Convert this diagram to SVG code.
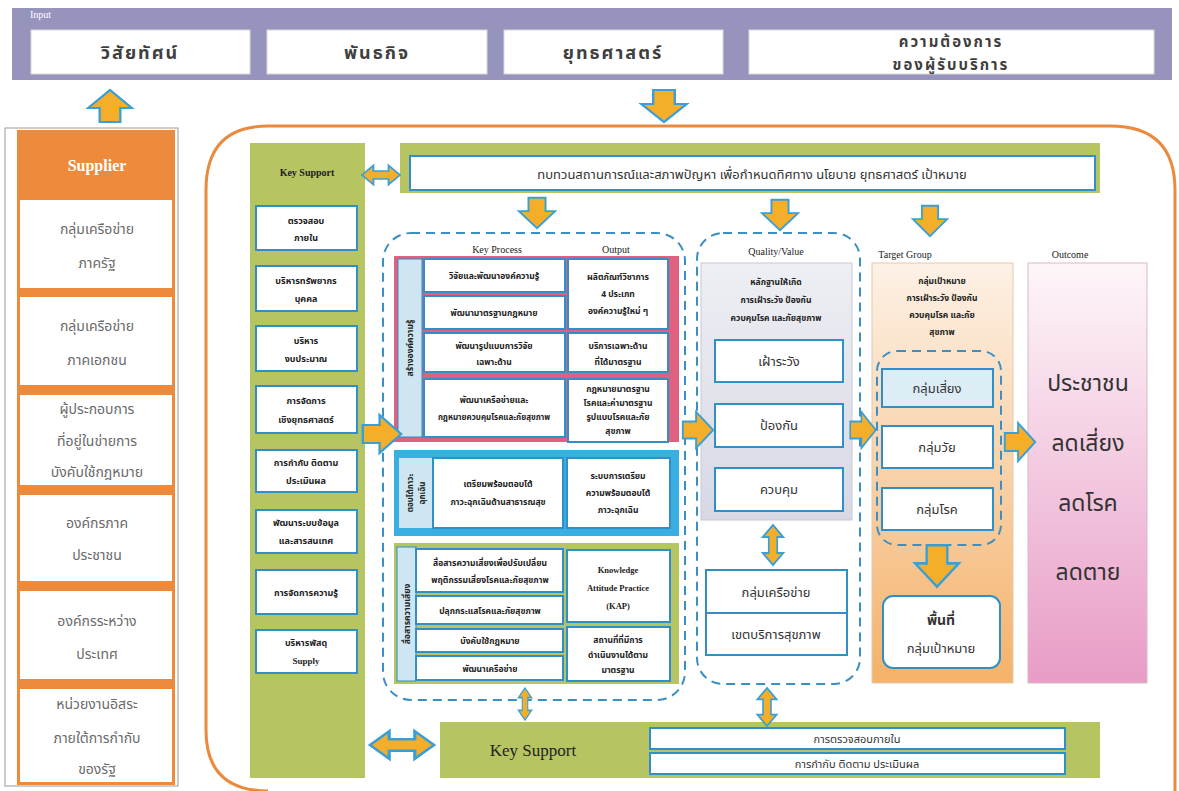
<svg xmlns="http://www.w3.org/2000/svg" width="1179" height="791" viewBox="0 0 1179 791">
<style>
.th{font-family:"Noto Sans Thai","Loma","Garuda","Tlwg Typo","Noto Sans","DejaVu Sans",sans-serif;}
.lat{font-family:"Liberation Serif","Times New Roman",serif;}
.inp{font-size:18px;font-weight:bold;fill:#3f3f3f;letter-spacing:2px;text-anchor:middle;}
.inp2{font-size:15px;}
.sup{font-size:14px;fill:#6a6a6a;text-anchor:middle;}
.ks{font-size:9px;font-weight:bold;fill:#222;text-anchor:middle;}
.sm{font-size:8.5px;font-weight:bold;fill:#222;text-anchor:middle;}
.xs{font-size:8px;}
.hdr{font-size:10px;fill:#222;text-anchor:middle;}
.mid{font-size:13px;fill:#333;text-anchor:middle;}
.out{font-size:23px;fill:#333;text-anchor:middle;}
.wbox{fill:#fff;stroke:#2f8fc6;stroke-width:2;}
.wplain{fill:#fff;stroke:#d8d8d8;stroke-width:1;}
.arr{fill:#f5ae2a;stroke:#3a9fd6;stroke-width:2;stroke-linejoin:miter;}
.dash{fill:none;stroke:#3b8fc4;stroke-width:2;stroke-dasharray:9 6;}
</style>
<defs>
  <path id="aDown" d="M-9,-16 H9 V-2 H19 L0,16 L-19,-2 H-9 Z"/>
  <path id="aDbl" d="M-20,0 L-8,-12 V-5 H8 V-12 L20,0 L8,12 V5 H-8 V12 Z"/>
  <linearGradient id="gTarget" x1="0" y1="0" x2="0" y2="1">
    <stop offset="0" stop-color="#fdf1e6"/>
    <stop offset="1" stop-color="#f4b26a"/>
  </linearGradient>
  <linearGradient id="gOutcome" x1="0" y1="0" x2="0" y2="1">
    <stop offset="0" stop-color="#fdf6f9"/>
    <stop offset="1" stop-color="#e89cc6"/>
  </linearGradient>
  <linearGradient id="gQual" x1="0" y1="0" x2="0" y2="1">
    <stop offset="0" stop-color="#eeeff4"/>
    <stop offset="1" stop-color="#d6d8e4"/>
  </linearGradient>
</defs>

<rect width="1179" height="791" fill="#fff"/>

<!-- Input bar -->
<g id="input">
  <rect x="12" y="8" width="1160" height="72" fill="#9693bd"/>
  <text x="30" y="18" class="lat" font-size="10" fill="#fff">Input</text>
  <rect x="31" y="30" width="219" height="44" class="wplain"/>
  <text x="140" y="59" class="th inp">วิสัยทัศน์</text>
  <rect x="267" y="30" width="220" height="44" class="wplain"/>
  <text x="377" y="59" class="th inp">พันธกิจ</text>
  <rect x="504" y="30" width="219" height="44" class="wplain"/>
  <text x="613" y="59" class="th inp">ยุทธศาสตร์</text>
  <rect x="749" y="30" width="405" height="44" class="wplain"/>
  <text x="951" y="47" class="th inp inp2">ความต้องการ</text>
  <text x="951" y="70" class="th inp inp2">ของผู้รับบริการ</text>
</g>

<!-- Supplier column -->
<g id="supplier">
  <rect x="5" y="128" width="173" height="658" fill="#fff" stroke="#999" stroke-width="1"/>
  <rect x="17" y="130" width="158" height="655" fill="#ee8a3c"/>
  <text x="97" y="171" class="lat" font-size="16" font-weight="bold" fill="#fff" text-anchor="middle">Supplier</text>
  <rect x="20" y="200" width="152" height="88" fill="#fff"/>
  <text x="97" y="234" class="th sup">กลุ่มเครือข่าย</text>
  <text x="97" y="268" class="th sup">ภาครัฐ</text>
  <rect x="20" y="297" width="152" height="88" fill="#fff"/>
  <text x="97" y="331" class="th sup">กลุ่มเครือข่าย</text>
  <text x="97" y="365" class="th sup">ภาคเอกชน</text>
  <rect x="20" y="395" width="152" height="90" fill="#fff"/>
  <text x="97" y="414" class="th sup">ผู้ประกอบการ</text>
  <text x="97" y="446" class="th sup">ที่อยู่ในข่ายการ</text>
  <text x="97" y="477" class="th sup">บังคับใช้กฎหมาย</text>
  <rect x="20" y="495" width="152" height="86" fill="#fff"/>
  <text x="97" y="528" class="th sup">องค์กรภาค</text>
  <text x="97" y="560" class="th sup">ประชาชน</text>
  <rect x="20" y="591" width="152" height="88" fill="#fff"/>
  <text x="97" y="626" class="th sup">องค์กรระหว่าง</text>
  <text x="97" y="659" class="th sup">ประเทศ</text>
  <rect x="20" y="689" width="152" height="93" fill="#fff"/>
  <text x="97" y="709" class="th sup">หน่วยงานอิสระ</text>
  <text x="97" y="743" class="th sup">ภายใต้การกำกับ</text>
  <text x="97" y="774" class="th sup">ของรัฐ</text>
</g>

<!-- Main frame -->
<g id="frame">
  <path d="M268,126 H1110 Q1175,126 1175,190 V791 M268,126 Q206,126 206,190 V730 Q206,791 268,791" fill="none" stroke="#ea8a3e" stroke-width="3"/>
</g>

<!-- Key Support left column -->
<g id="key-support-left">
  <rect x="250" y="143" width="115" height="635" fill="#b7c462"/>
  <text x="307" y="176" class="lat" font-size="10" font-weight="bold" fill="#222" text-anchor="middle">Key Support</text>
  <rect x="256" y="206" width="101" height="44" class="wbox"/>
  <text x="306" y="224" class="th ks">ตรวจสอบ</text>
  <text x="306" y="241" class="th ks">ภายใน</text>
  <rect x="256" y="266" width="101" height="45" class="wbox"/>
  <text x="306" y="284" class="th ks">บริหารทรัพยากร</text>
  <text x="306" y="302" class="th ks">บุคคล</text>
  <rect x="256" y="326" width="101" height="45" class="wbox"/>
  <text x="306" y="344" class="th ks">บริหาร</text>
  <text x="306" y="362" class="th ks">งบประมาณ</text>
  <rect x="256" y="386" width="101" height="47" class="wbox"/>
  <text x="306" y="404" class="th ks">การจัดการ</text>
  <text x="306" y="423" class="th ks">เชิงยุทธศาสตร์</text>
  <rect x="256" y="450" width="101" height="42" class="wbox"/>
  <text x="306" y="466" class="th ks">การกำกับ ติดตาม</text>
  <text x="306" y="484" class="th ks">ประเมินผล</text>
  <rect x="256" y="510" width="101" height="43" class="wbox"/>
  <text x="306" y="526" class="th ks">พัฒนาระบบข้อมูล</text>
  <text x="306" y="544" class="th ks">และสารสนเทศ</text>
  <rect x="256" y="570" width="101" height="44" class="wbox"/>
  <text x="306" y="596" class="th ks">การจัดการความรู้</text>
  <rect x="256" y="630" width="101" height="43" class="wbox"/>
  <text x="306" y="646" class="th ks">บริหารพัสดุ</text>
  <text x="306" y="664" class="lat" font-size="9" font-weight="bold" fill="#222" text-anchor="middle">Supply</text>
</g>

<!-- Top review banner -->
<g id="review">
  <rect x="400" y="143" width="700" height="50" fill="#b7c462"/>
  <rect x="410" y="156" width="685" height="34" fill="#fff" stroke="#2f8fc6" stroke-width="2"/>
  <text x="752" y="179" class="th" font-size="13" fill="#333" text-anchor="middle">ทบทวนสถานการณ์และสภาพปัญหา เพื่อกำหนดทิศทาง นโยบาย ยุทธศาสตร์ เป้าหมาย</text>
</g>

<!-- Key Process -->
<g id="key-process">
  <rect x="383" y="233" width="302" height="467" rx="28" class="dash"/>
  <text x="497" y="253" class="lat hdr">Key Process</text>
  <text x="616" y="253" class="lat hdr">Output</text>

  <!-- knowledge block -->
  <rect x="394" y="256" width="285" height="186" fill="#e0607f"/>
  <rect x="398" y="259" width="24" height="178" fill="#cde6f2" stroke="#2f8fc6" stroke-width="1"/>
  <text transform="translate(413,348) rotate(-90)" class="th sm">สร้างองค์ความรู้</text>
  <rect x="424" y="259" width="141" height="33" class="wbox"/>
  <text x="494" y="279" class="th sm">วิจัยและพัฒนาองค์ความรู้</text>
  <rect x="424" y="296" width="141" height="33" class="wbox"/>
  <text x="494" y="316" class="th sm">พัฒนามาตรฐานกฎหมาย</text>
  <rect x="568" y="259" width="100" height="70" class="wbox"/>
  <text x="618" y="280" class="th sm">ผลิตภัณฑ์วิชาการ</text>
  <text x="618" y="297" class="th sm">4 ประเภท</text>
  <text x="618" y="314" class="th sm">องค์ความรู้ใหม่ ๆ</text>
  <rect x="424" y="333" width="141" height="39" class="wbox"/>
  <text x="494" y="349" class="th sm">พัฒนารูปแบบการวิจัย</text>
  <text x="494" y="365" class="th sm">เฉพาะด้าน</text>
  <rect x="568" y="333" width="100" height="39" class="wbox"/>
  <text x="618" y="349" class="th sm">บริการเฉพาะด้าน</text>
  <text x="618" y="365" class="th sm">ที่ได้มาตรฐาน</text>
  <rect x="424" y="379" width="141" height="58" class="wbox"/>
  <text x="494" y="403" class="th sm">พัฒนาเครือข่ายและ</text>
  <text x="494" y="420" class="th sm xs">กฎหมายควบคุมโรคและภัยสุขภาพ</text>
  <rect x="568" y="379" width="100" height="63" class="wbox"/>
  <text x="618" y="392" class="th sm">กฎหมายมาตรฐาน</text>
  <text x="618" y="406" class="th sm">โรคและค่ามาตรฐาน</text>
  <text x="618" y="420" class="th sm">รูปแบบโรคและภัย</text>
  <text x="618" y="434" class="th sm">สุขภาพ</text>

  <!-- emergency block -->
  <rect x="394" y="450" width="285" height="86" fill="#38aee2"/>
  <rect x="399" y="458" width="33" height="70" fill="#cde6f2"/>
  <text transform="translate(413,493) rotate(-90)" class="th sm xs">ตอบโต้ภาวะ</text>
  <text transform="translate(425,493) rotate(-90)" class="th sm xs">ฉุกเฉิน</text>
  <rect x="433" y="458" width="130" height="70" class="wbox"/>
  <text x="498" y="487" class="th sm">เตรียมพร้อมตอบโต้</text>
  <text x="498" y="505" class="th sm">ภาวะฉุกเฉินด้านสาธารณสุข</text>
  <rect x="567" y="458" width="103" height="70" class="wbox"/>
  <text x="618" y="479" class="th sm">ระบบการเตรียม</text>
  <text x="618" y="496" class="th sm">ความพร้อมตอบโต้</text>
  <text x="618" y="513" class="th sm">ภาวะฉุกเฉิน</text>

  <!-- communication block -->
  <rect x="394" y="543" width="285" height="141" fill="#b7c462"/>
  <rect x="397" y="547" width="19" height="134" fill="#cde6f2" stroke="#2f8fc6" stroke-width="1"/>
  <text transform="translate(410,614) rotate(-90)" class="th sm">สื่อสารความเสี่ยง</text>
  <rect x="416" y="549" width="147" height="43" class="wbox"/>
  <text x="490" y="566" class="th sm">สื่อสารความเสี่ยงเพื่อปรับเปลี่ยน</text>
  <text x="490" y="583" class="th sm">พฤติกรรมเสี่ยงโรคและภัยสุขภาพ</text>
  <rect x="416" y="596" width="147" height="28" class="wbox"/>
  <text x="490" y="614" class="th sm">ปลุกกระแสโรคและภัยสุขภาพ</text>
  <rect x="416" y="629" width="147" height="23" class="wbox"/>
  <text x="490" y="644" class="th sm">บังคับใช้กฎหมาย</text>
  <rect x="416" y="656" width="147" height="24" class="wbox"/>
  <text x="490" y="672" class="th sm">พัฒนาเครือข่าย</text>
  <rect x="567" y="550" width="103" height="72" class="wbox"/>
  <text x="618" y="573" class="lat sm">Knowledge</text>
  <text x="618" y="591" class="lat sm">Attitude Practice</text>
  <text x="618" y="609" class="lat sm">(KAP)</text>
  <rect x="567" y="627" width="103" height="54" class="wbox"/>
  <text x="618" y="643" class="th sm">สถานที่ที่มีการ</text>
  <text x="618" y="658" class="th sm">ดำเนินงานได้ตาม</text>
  <text x="618" y="673" class="th sm">มาตรฐาน</text>
</g>

<!-- Quality / Value -->
<g id="quality">
  <rect x="697" y="233" width="163" height="451" rx="26" class="dash"/>
  <text x="776" y="255" class="lat hdr">Quality/Value</text>
  <rect x="701" y="263" width="151" height="257" fill="url(#gQual)" stroke="#c8c9d6" stroke-width="1"/>
  <text x="776" y="285" class="th sm">หลักฐานให้เกิด</text>
  <text x="776" y="303" class="th sm">การเฝ้าระวัง ป้องกัน</text>
  <text x="776" y="321" class="th sm">ควบคุมโรค และภัยสุขภาพ</text>
  <rect x="715" y="340" width="128" height="42" class="wbox"/>
  <text x="779" y="366" class="th mid">เฝ้าระวัง</text>
  <rect x="715" y="404" width="128" height="43" class="wbox"/>
  <text x="779" y="430" class="th mid">ป้องกัน</text>
  <rect x="715" y="468" width="128" height="43" class="wbox"/>
  <text x="779" y="494" class="th mid">ควบคุม</text>
  <rect x="706" y="570" width="141" height="43" fill="#fff" stroke="#2f8fc6" stroke-width="2"/>
  <text x="776" y="597" class="th mid">กลุ่มเครือข่าย</text>
  <rect x="706" y="613" width="141" height="42" fill="#fff" stroke="#2f8fc6" stroke-width="2"/>
  <text x="776" y="639" class="th mid">เขตบริการสุขภาพ</text>
</g>

<!-- Target Group -->
<g id="target">
  <text x="905" y="258" class="lat hdr">Target Group</text>
  <rect x="872" y="263" width="141" height="420" fill="url(#gTarget)" stroke="#e5c8b0" stroke-width="1"/>
  <text x="942" y="284" class="th sm">กลุ่มเป้าหมาย</text>
  <text x="942" y="301" class="th sm">การเฝ้าระวัง ป้องกัน</text>
  <text x="942" y="318" class="th sm">ควบคุมโรค และภัย</text>
  <text x="942" y="335" class="th sm">สุขภาพ</text>
  <rect x="877" y="351" width="124" height="194" rx="20" class="dash"/>
  <rect x="882" y="369" width="111" height="38" fill="#dcedf6" stroke="#2f8fc6" stroke-width="2"/>
  <text x="937" y="393" class="th mid">กลุ่มเสี่ยง</text>
  <rect x="882" y="426" width="111" height="42" class="wbox"/>
  <text x="937" y="452" class="th mid">กลุ่มวัย</text>
  <rect x="882" y="488" width="111" height="42" class="wbox"/>
  <text x="937" y="514" class="th mid">กลุ่มโรค</text>
  <rect x="883" y="596" width="117" height="72" rx="10" class="wbox"/>
  <text x="941" y="625" class="th" font-size="14" font-weight="bold" fill="#333" text-anchor="middle">พื้นที่</text>
  <text x="941" y="653" class="th mid">กลุ่มเป้าหมาย</text>
</g>

<!-- Outcome -->
<g id="outcome">
  <text x="1070" y="258" class="lat hdr">Outcome</text>
  <rect x="1028" y="263" width="119" height="420" fill="url(#gOutcome)" stroke="#d9b8c8" stroke-width="1"/>
  <text x="1088" y="391" class="th out">ประชาชน</text>
  <text x="1088" y="451" class="th out">ลดเสี่ยง</text>
  <text x="1088" y="511" class="th out">ลดโรค</text>
  <text x="1088" y="580" class="th out">ลดตาย</text>
</g>

<!-- Bottom Key Support -->
<g id="key-support-bottom">
  <rect x="440" y="722" width="660" height="56" fill="#b7c462"/>
  <text x="533" y="756" class="lat" font-size="17" fill="#222" text-anchor="middle">Key Support</text>
  <rect x="650" y="728" width="415" height="21" fill="#fff" stroke="#2f8fc6" stroke-width="2"/>
  <text x="857" y="743" class="th" font-size="11" fill="#333" text-anchor="middle">การตรวจสอบภายใน</text>
  <rect x="650" y="753" width="415" height="21" fill="#fff" stroke="#2f8fc6" stroke-width="2"/>
  <text x="857" y="768" class="th" font-size="11" fill="#333" text-anchor="middle">การกำกับ ติดตาม ประเมินผล</text>
</g>

<!-- Connectors -->
<g id="connectors">
  <!-- supplier up to input -->
  <use href="#aDown" class="arr" transform="translate(110,106) rotate(180) scale(1.15,1)"/>
  <!-- input down into frame -->
  <use href="#aDown" class="arr" transform="translate(664,106) scale(1.2,1)"/>
  <!-- key support to review banner -->
  <use href="#aDbl" class="arr" transform="translate(381,175) scale(0.95,0.8)"/>
  <!-- review down to columns -->
  <use href="#aDown" class="arr" transform="translate(537,213) scale(0.95,0.95)"/>
  <use href="#aDown" class="arr" transform="translate(780,215) scale(0.95,0.95)"/>
  <use href="#aDown" class="arr" transform="translate(930,221) scale(0.9,0.95)"/>
  <!-- key support into process -->
  <use href="#aDown" class="arr" transform="translate(382,434) rotate(-90) scale(1,1.2)"/>
  <!-- process to quality -->
  <use href="#aDown" class="arr" transform="translate(698,430) rotate(-90) scale(0.95,0.95)"/>
  <!-- quality to target -->
  <use href="#aDown" class="arr" transform="translate(863,430) rotate(-90) scale(0.95,0.8)"/>
  <!-- target to outcome -->
  <use href="#aDown" class="arr" transform="translate(1020,442) rotate(-90) scale(1,0.95)"/>
  <!-- control to network -->
  <use href="#aDbl" class="arr" transform="translate(773,545) rotate(90) scale(1,0.85)"/>
  <!-- target groups down to area -->
  <use href="#aDown" class="arr" transform="translate(937,566) scale(1.15,1.3)"/>
  <!-- bottom links -->
  <use href="#aDbl" class="arr" transform="translate(525,704) rotate(90) scale(0.8,0.55)"/>
  <use href="#aDbl" class="arr" transform="translate(767,707) rotate(90) scale(0.95,0.8)"/>
  <use href="#aDbl" class="arr" transform="translate(402,745) scale(1.6,1.15)"/>
</g>
</svg>
